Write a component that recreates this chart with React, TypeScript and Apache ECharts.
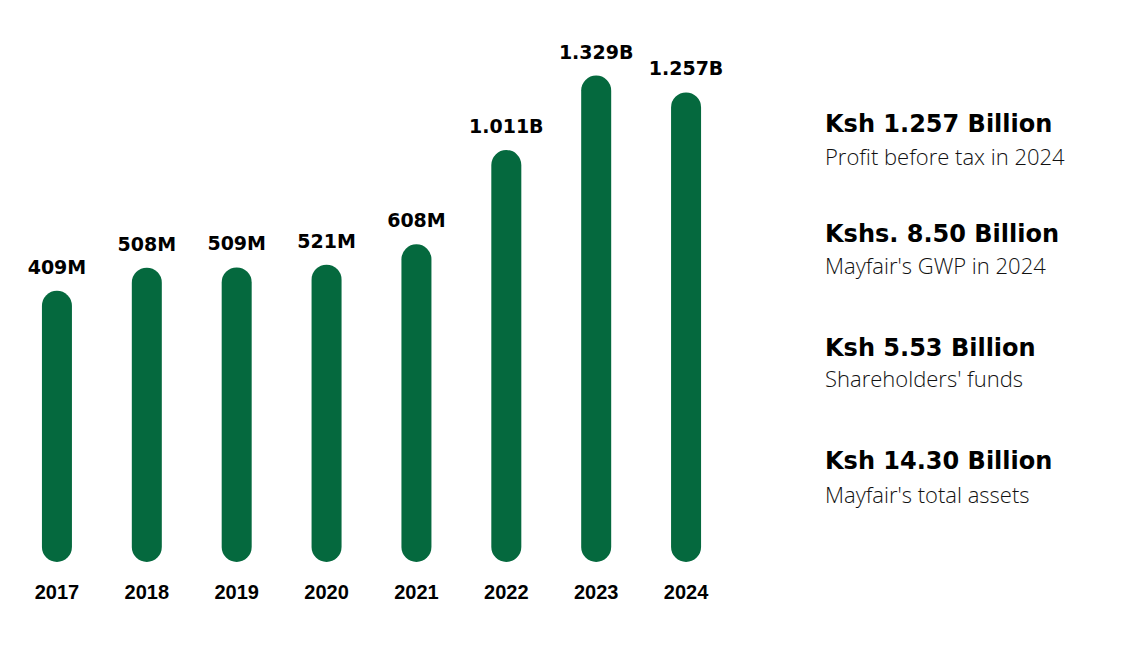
import React, { useEffect, useRef } from "react";
import * as echarts from "echarts";

const years = ["2017", "2018", "2019", "2020", "2021", "2022", "2023", "2024"];
const profitMillions = [409, 508, 509, 521, 608, 1011, 1329, 1257];
const valueLabels = ["409M", "508M", "509M", "521M", "608M", "1.011B", "1.329B", "1.257B"];
const headlines = ["Ksh 1.257 Billion", "Kshs. 8.50 Billion", "Ksh 5.53 Billion", "Ksh 14.30 Billion"];
const captions = ["Profit before tax in 2024", "Mayfair's GWP in 2024", "Shareholders' funds", "Mayfair's total assets"];

const BASE = -750;
const GREEN = "#05693e";

export default function App() {
  const ref = useRef<HTMLDivElement>(null);
  useEffect(() => {
    if (!ref.current) return;
    const chart = echarts.init(ref.current, null, { renderer: "svg" });
    const headY = [124, 234, 348, 461];
    const capY = [157, 266, 379, 495];
    const graphics: any[] = [];
    headlines.forEach((h, i) => {
      graphics.push({
        type: "text",
        left: 825,
        top: headY[i] - 12,
        style: {
          text: h,
          fill: "#000",
          font: "900 24px 'DejaVu Sans'",
        },
      });
      graphics.push({
        type: "text",
        left: 825,
        top: capY[i] - 12,
        style: {
          text: captions[i],
          fill: "#111",
          font: "300 22px 'Open Sans'",
        },
      });
    });
    chart.setOption({
      animation: false,
      backgroundColor: "#fff",
      grid: { left: 12, width: 719, top: 59, bottom: 93 },
      xAxis: {
        type: "category",
        data: years,
        axisLine: { show: false },
        axisTick: { show: false },
        axisLabel: {
          margin: 20,
          color: "#000",
          fontFamily: "'Liberation Sans', Arial, sans-serif",
          fontWeight: "bold",
          fontSize: 20,
        },
      },
      yAxis: {
        type: "value",
        min: BASE,
        max: 1400,
        show: false,
        splitLine: { show: false },
      },
      series: [
        {
          type: "custom",
          data: profitMillions.map((v, i) => [i, v]),
          renderItem: (params: any, api: any) => {
            const idx = api.value(0);
            const top = api.coord([idx, api.value(1)]);
            const bottom = api.coord([idx, BASE]);
            const w = 30;
            return {
              type: "group",
              children: [
                {
                  type: "rect",
                  shape: {
                    x: top[0] - w / 2,
                    y: top[1],
                    width: w,
                    height: bottom[1] - top[1],
                    r: w / 2,
                  },
                  style: { fill: GREEN },
                },
                {
                  type: "text",
                  x: top[0],
                  y: top[1] - 24,
                  style: {
                    text: valueLabels[params.dataIndex],
                    fill: "#000",
                    font: "bold 19px 'DejaVu Sans'",
                    textAlign: "center",
                    textVerticalAlign: "middle",
                  },
                },
              ],
            };
          },
        },
      ],
      graphic: graphics,
    });
    return () => chart.dispose();
  }, []);
  return (
    <div
      ref={ref}
      style={{ position: "fixed", left: 0, top: 0, width: 1123, height: 655, background: "#fff" }}
    />
  );
}
